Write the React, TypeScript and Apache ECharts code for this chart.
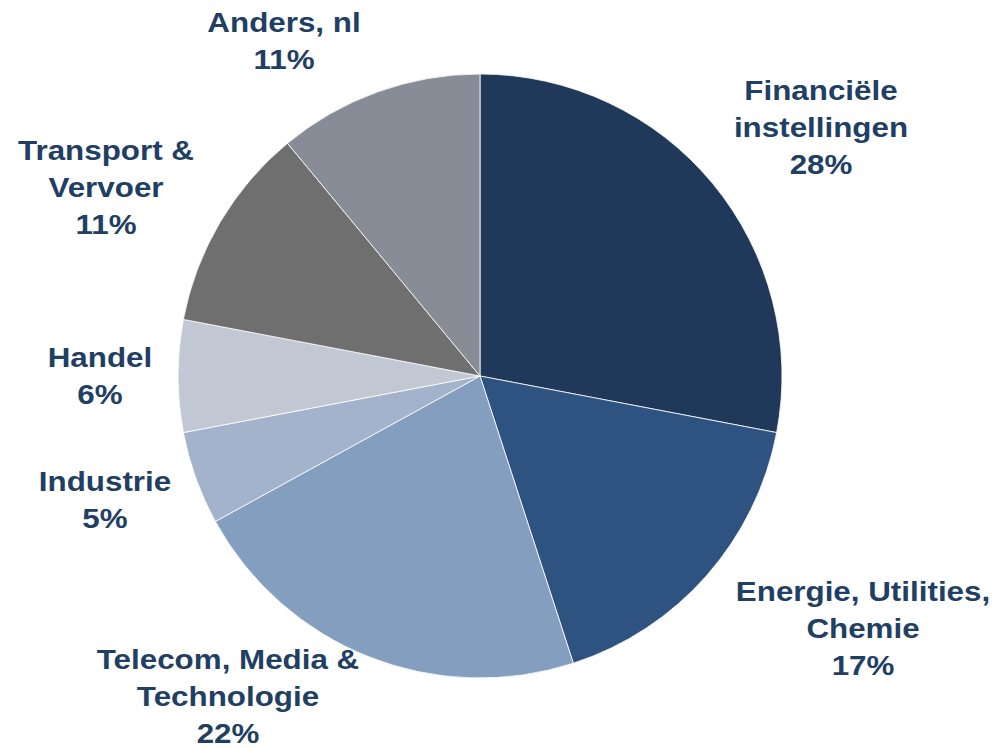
import React, { useEffect, useRef } from "react";
import * as echarts from "echarts";

const categories = [
  "Financiële\ninstellingen",
  "Energie, Utilities,\nChemie",
  "Telecom, Media &\nTechnologie",
  "Industrie",
  "Handel",
  "Transport &\nVervoer",
  "Anders, nl",
];
const values = [28, 17, 22, 5, 6, 11, 11];
const colors = ["#203859", "#2F5381", "#849EBF", "#A3B3CB", "#C1C8D4", "#6F6F6F", "#878C97"];
// label block centers (text placement)
const labelX = [821, 863, 228, 105, 100, 106, 284];
const labelY = [127, 628, 696, 500, 376, 187, 41];

export default function App() {
  const ref = useRef<HTMLDivElement>(null);
  useEffect(() => {
    document.body.style.margin = "0";
    const chart = echarts.init(ref.current!, null, { renderer: "svg" });
    const total = values.reduce((a, b) => a + b, 0);
    chart.setOption({
      animation: false,
      backgroundColor: "#ffffff",
      series: [
        {
          type: "pie",
          center: [480, 376],
          radius: [0, 302],
          startAngle: 90,
          clockwise: true,
          label: { show: false },
          labelLine: { show: false },
          itemStyle: { borderColor: "#ffffff", borderWidth: 0.8 },
          emphasis: { disabled: true },
          data: categories.map((c, i) => ({
            name: c,
            value: values[i],
            itemStyle: { color: colors[i] },
          })),
        },
      ],
      graphic: categories.map((c, i) => ({
        type: "text",
        x: labelX[i],
        y: labelY[i],
        scaleX: 1.12,
        style: {
          text: `${c}\n${Math.round((values[i] / total) * 100)}%`,
          fontFamily: "Arial, 'Liberation Sans', sans-serif",
          fontWeight: "bold",
          fontSize: 28,
          lineHeight: 37,
          fill: "#213E63",
          align: "center",
          verticalAlign: "middle",
        },
      })),
    });
    return () => chart.dispose();
  }, []);
  return <div ref={ref} style={{ width: 998, height: 748 }} />;
}
